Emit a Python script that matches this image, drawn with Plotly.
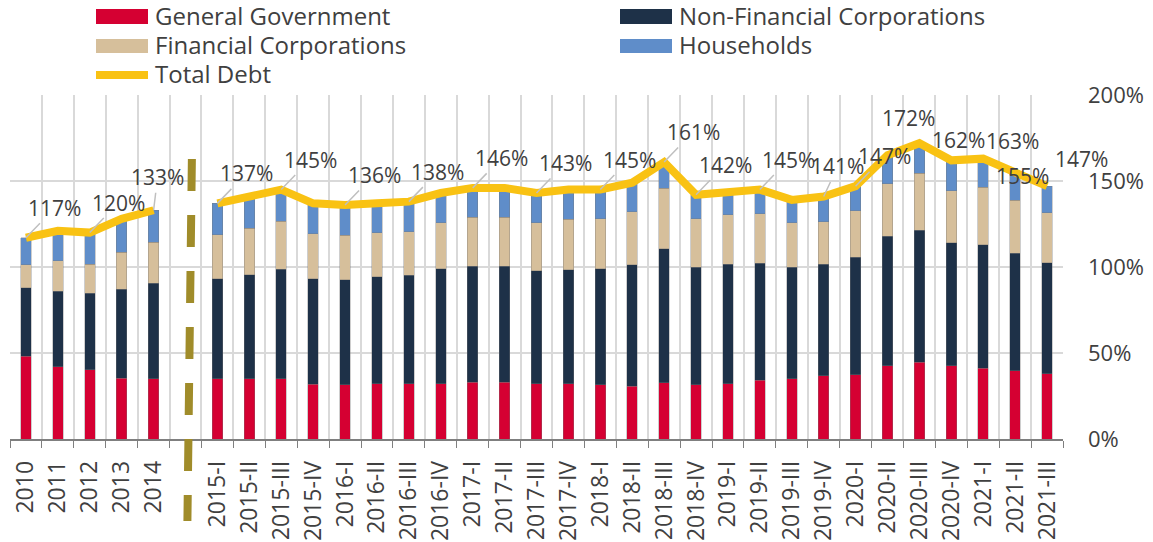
import plotly.graph_objects as go

# ---------------- data ----------------
categories = ["2010", "2011", "2012", "2013", "2014", " ",
              "2015-I", "2015-II", "2015-III", "2015-IV",
              "2016-I", "2016-II", "2016-III", "2016-IV",
              "2017-I", "2017-II", "2017-III", "2017-IV",
              "2018-I", "2018-II", "2018-III", "2018-IV",
              "2019-I", "2019-II", "2019-III", "2019-IV",
              "2020-I", "2020-II", "2020-III", "2020-IV",
              "2021-I", "2021-II", "2021-III"]

general_government = [48.0, 41.9, 40.3, 35.2, 34.9, None,
                      34.9, 34.9, 34.9, 31.7, 31.6, 32.2, 32.2, 32.2,
                      33.1, 33.1, 32.2, 32.2, 31.6, 30.6, 32.6, 31.6,
                      32.2, 34.1, 34.9, 36.8, 37.4, 42.6, 44.5, 42.6,
                      41.1, 39.7, 37.8]
non_financial_corporations = [39.8, 43.9, 44.4, 52.0, 55.6, None,
                              58.3, 60.6, 63.7, 61.5, 61.0, 62.0, 62.9, 66.8,
                              67.3, 67.3, 65.7, 66.2, 67.4, 70.7, 77.9, 68.2,
                              69.5, 68.2, 64.9, 64.9, 68.2, 75.2, 76.8, 71.5,
                              71.9, 68.4, 64.7]
financial_corporations = [13.5, 17.9, 17.0, 21.5, 24.0, None,
                          25.6, 27.0, 27.9, 26.2, 25.8, 25.6, 25.4, 26.8,
                          28.4, 28.4, 27.9, 29.5, 29.1, 30.9, 35.2, 28.3,
                          28.7, 28.7, 25.8, 24.6, 27.1, 30.5, 33.1, 30.3,
                          33.3, 30.6, 28.9]
households = [15.7, 17.3, 18.3, 19.3, 18.5, None,
              18.2, 18.5, 18.5, 17.6, 17.6, 17.2, 17.5, 17.2,
              17.2, 17.2, 17.2, 17.1, 16.9, 16.8, 15.3, 13.9,
              13.6, 14.0, 13.4, 14.7, 14.3, 16.7, 17.6, 17.6,
              16.7, 16.3, 15.6]
total_debt = [117, 121, 120, 128, 133, None,
              137, 141, 145, 137, 136, 137, 138, 143,
              146, 146, 143, 145, 145, 149, 161, 142,
              144, 145, 139, 141, 147, 165, 172, 162,
              163, 155, 147]

labelled_points = ["2010", "2012", "2014", "2015-I", "2015-III", "2016-I",
                   "2016-III", "2017-I", "2017-III", "2018-I", "2018-III",
                   "2018-IV", "2019-II", "2019-IV", "2020-I", "2020-III",
                   "2020-IV", "2021-I", "2021-II", "2021-III"]

y_ticks = [0, 50, 100, 150, 200]

# ---------------- style ----------------
FONT = "Open Sans"
TXT = "#404040"
C_GG = "#D50032"
C_NFC = "#1E3148"
C_FC = "#D6BF9B"
C_HH = "#5F8DC9"
C_TD = "#F9C213"
GRID = "#D9D9D9"

# label offsets (pixels, text centre relative to point) and leader visibility
label_offsets = {"2014": (4, -33, True), "2019-IV": (14, -30, True),
                 "2020-III": (-11, -25, False), "2020-IV": (7, -20, False),
                 "2021-I": (29, -18, False), "2021-II": (7, 4, False),
                 "2021-III": (34, -27, False)}

fig = go.Figure()
for name, vals, col in [("General Government", general_government, C_GG),
                        ("Non-Financial Corporations", non_financial_corporations, C_NFC),
                        ("Financial Corporations", financial_corporations, C_FC),
                        ("Households", households, C_HH)]:
    fig.add_trace(go.Bar(x=categories, y=vals, name=name, marker_color=col,
                         marker_line_width=0.6, marker_line_color="rgba(120,120,120,0.6)",
                         showlegend=False))

fig.add_trace(go.Scatter(x=categories, y=total_debt, name="Total Debt", mode="lines",
                         line=dict(color=C_TD, width=8), connectgaps=False,
                         showlegend=False))

# data labels
for cat in labelled_points:
    i = categories.index(cat)
    v = total_debt[i]
    ax, ay, leader = label_offsets.get(cat, (29, -30, True))
    fig.add_annotation(x=i, y=v, xref="x", yref="y", text=f"{v:.0f}%",
                       showarrow=True, ax=ax, ay=ay, arrowhead=0, arrowwidth=1.5,
                       arrowcolor="#BFBFBF" if leader else "rgba(0,0,0,0)",
                       standoff=0, startstandoff=0,
                       font=dict(family=FONT, size=21, color=TXT))

# dashed break line
fig.add_shape(type="line", xref="x", yref="paper", x0=5.2, x1=5.06,
              y0=(439 - 159) / 344, y1=(439 - 521) / 344,
              line=dict(color="#A08C2A", width=8, dash="32px,24px"), layer="above")

# manual legend
def px_x(p):
    return (p - 10) / 1053

def px_y(p):
    return (439 - p) / 344

legend_items = [("General Government", C_GG, 96, 9, 24, "rect"),
                ("Non-Financial Corporations", C_NFC, 620, 9, 24, "rect"),
                ("Financial Corporations", C_FC, 96, 39, 53, "rect"),
                ("Households", C_HH, 620, 39, 53, "rect"),
                ("Total Debt", C_TD, 96, 75, 75, "line")]
for name, col, x0, y0, y1, kind in legend_items:
    if kind == "rect":
        fig.add_shape(type="rect", xref="paper", yref="paper",
                      x0=px_x(x0), x1=px_x(x0 + 52), y0=px_y(y1), y1=px_y(y0),
                      fillcolor=col, line_width=0)
    else:
        fig.add_shape(type="line", xref="paper", yref="paper",
                      x0=px_x(x0), x1=px_x(x0 + 52), y0=px_y(y0), y1=px_y(y0),
                      line=dict(color=col, width=8))
    fig.add_annotation(xref="paper", yref="paper", x=px_x(x0 + 57),
                       y=px_y((y0 + y1) / 2 - 1), text=name, showarrow=False,
                       xanchor="left", yanchor="middle",
                       font=dict(family=FONT, size=24, color=TXT))

fig.update_layout(
    width=1153, height=542,
    margin=dict(l=10, r=90, t=95, b=103),
    plot_bgcolor="white", paper_bgcolor="white",
    barmode="stack", bargap=0.67,
    font=dict(family=FONT, color=TXT),
    showlegend=False,
)
fig.update_xaxes(type="category", categoryorder="array", categoryarray=categories,
                 tickson="boundaries", ticks="outside", ticklen=7, tickcolor="#7F7F7F",
                 showgrid=True, gridcolor=GRID, gridwidth=1.5,
                 showline=True, linecolor="#7F7F7F", linewidth=1.5,
                 tickangle=-90, ticklabelstandoff=11,
                 tickfont=dict(family=FONT, size=23, color=TXT),
                 automargin=False, range=[-0.5, len(categories) - 0.5])
fig.update_yaxes(side="right", range=[0, 200], tickvals=y_ticks,
                 ticktext=[f"{t}%" for t in y_ticks],
                 showgrid=True, gridcolor=GRID, gridwidth=1.5, zeroline=False,
                 showline=False, ticks="", ticklabelstandoff=24,
                 tickfont=dict(family=FONT, size=22, color=TXT), automargin=False)

fig.write_html("out.html", config={"displayModeBar": False},
               post_script="document.body.style.margin='0';document.body.style.padding='0';")
